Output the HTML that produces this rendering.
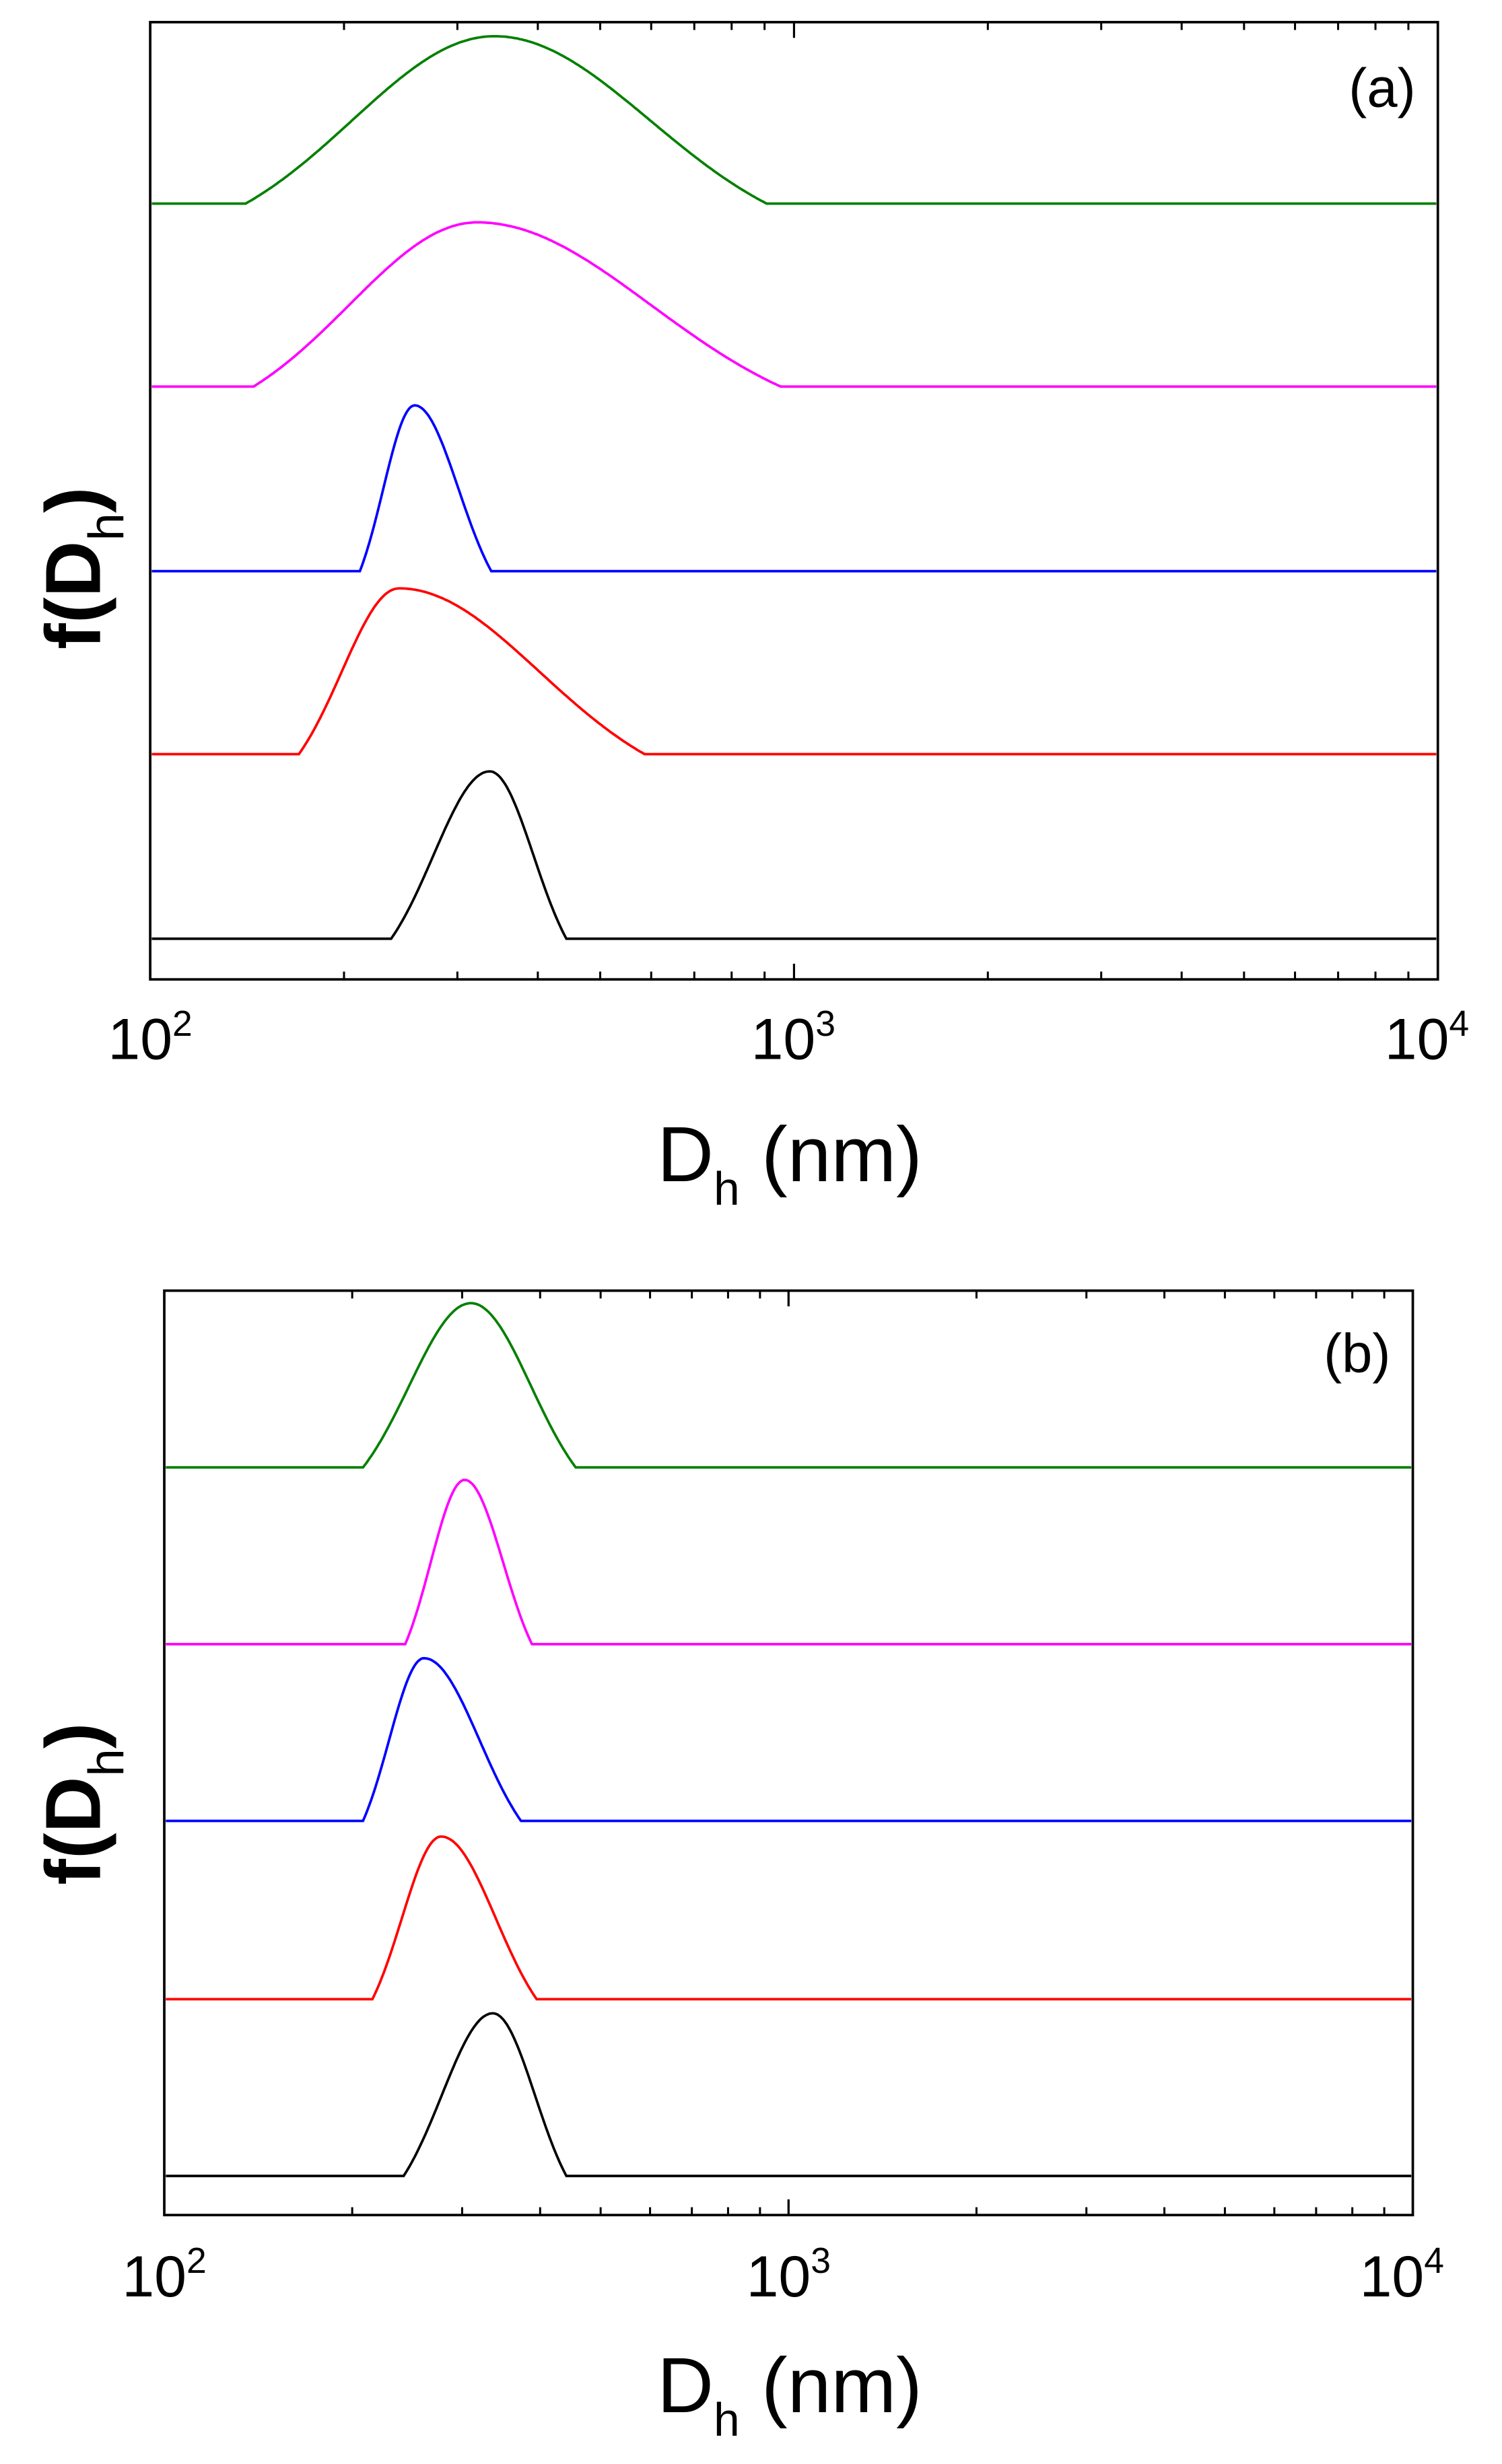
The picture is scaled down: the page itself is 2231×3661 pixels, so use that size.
<!DOCTYPE html>
<html><head><meta charset="utf-8"><style>
html,body{margin:0;padding:0;background:#fff}
svg{display:block}
text{font-family:"Liberation Sans",sans-serif;fill:#000}
</style></head><body>
<svg id="s" width="2231" height="3661" viewBox="0 0 960 1575" xmlns="http://www.w3.org/2000/svg">
<g id="g"></g>
<text x="96" y="677" font-size="37" text-anchor="middle">10<tspan font-size="23" dy="-15">2</tspan></text>
<text x="507" y="677" font-size="37" text-anchor="middle">10<tspan font-size="23" dy="-15">3</tspan></text>
<text x="912" y="677" font-size="37" text-anchor="middle">10<tspan font-size="23" dy="-15">4</tspan></text>
<text x="420" y="755" font-size="50">D<tspan font-size="30" dy="15">h</tspan><tspan dy="-15"> (nm)</tspan></text>
<text transform="translate(64,415) rotate(-90)" font-size="50" font-weight="bold">f(D<tspan font-size="32" dy="15" font-weight="normal">h</tspan><tspan dy="-15">)</tspan></text>
<text x="862" y="68" font-size="35">(a)</text>

<text x="105" y="1468" font-size="37" text-anchor="middle">10<tspan font-size="23" dy="-15">2</tspan></text>
<text x="504" y="1468" font-size="37" text-anchor="middle">10<tspan font-size="23" dy="-15">3</tspan></text>
<text x="896" y="1468" font-size="37" text-anchor="middle">10<tspan font-size="23" dy="-15">4</tspan></text>
<text x="420" y="1542" font-size="50">D<tspan font-size="30" dy="15">h</tspan><tspan dy="-15"> (nm)</tspan></text>
<text transform="translate(64,1205) rotate(-90)" font-size="50" font-weight="bold">f(D<tspan font-size="32" dy="15" font-weight="normal">h</tspan><tspan dy="-15">)</tspan></text>
<text x="846" y="877" font-size="35">(b)</text>
</svg>
<script>
var g=document.getElementById('g'),NS="http://www.w3.org/2000/svg";
function el(t,a){var e=document.createElementNS(NS,t);for(var k in a)e.setAttribute(k,a[k]);g.appendChild(e);return e;}
function panel(L,R,T,B,curves){
  el('rect',{x:L,y:T,width:R-L,height:B-T,fill:'none',stroke:'#000','stroke-width':1.6});
  var d=(R-L)/2;
  for(var dec=0;dec<2;dec++)for(var m=1;m<=10;m++){
    var x=L+d*dec+d*Math.log10(m);var len=(m==1||m==10)?10:5;
    el('line',{x1:x,y1:B,x2:x,y2:B-len,stroke:'#000','stroke-width':1.3});
    el('line',{x1:x,y1:T,x2:x,y2:T+len,stroke:'#000','stroke-width':1.3});
  }
  var K=1.75;
  curves.forEach(function(c){
    var col=c[0],base=c[1],s=c[2],e=c[3],p=c[4],h=c[5];
    var sl=(p-s)/K,sr=(e-p)/K;
    var v0=Math.exp(-0.5*K*K);
    var pts=[[L+1,base],[s,base]];
    for(var x=s;x<=e;x+=1){var sg=x<p?sl:sr;var v=Math.exp(-0.5*Math.pow((x-p)/sg,2));
      pts.push([x,base-h*(v-v0)/(1-v0)]);}
    pts.push([e,base],[R-1,base]);
    el('polyline',{points:pts.map(function(q){return q[0].toFixed(1)+','+q[1].toFixed(1)}).join(' '),fill:'none',stroke:col,'stroke-width':1.6});
  });
}
panel(96,919,14,626,[
 ['#008000',130,157,490,316,107],
 ['#ff00ff',247,162,499,305,105],
 ['#0000ff',365,230,314,265,106],
 ['#ff0000',482,191,412,255,106],
 ['#000000',600,250,362,313,107]]);
panel(105,903,825,1416,[
 ['#008000',938,232,368,301,105],
 ['#ff00ff',1051,259,340,297,105],
 ['#0000ff',1164,232,333,271,104],
 ['#ff0000',1278,238,343,282,104],
 ['#000000',1391,258,362,315,104]]);
</script>
</body></html>
